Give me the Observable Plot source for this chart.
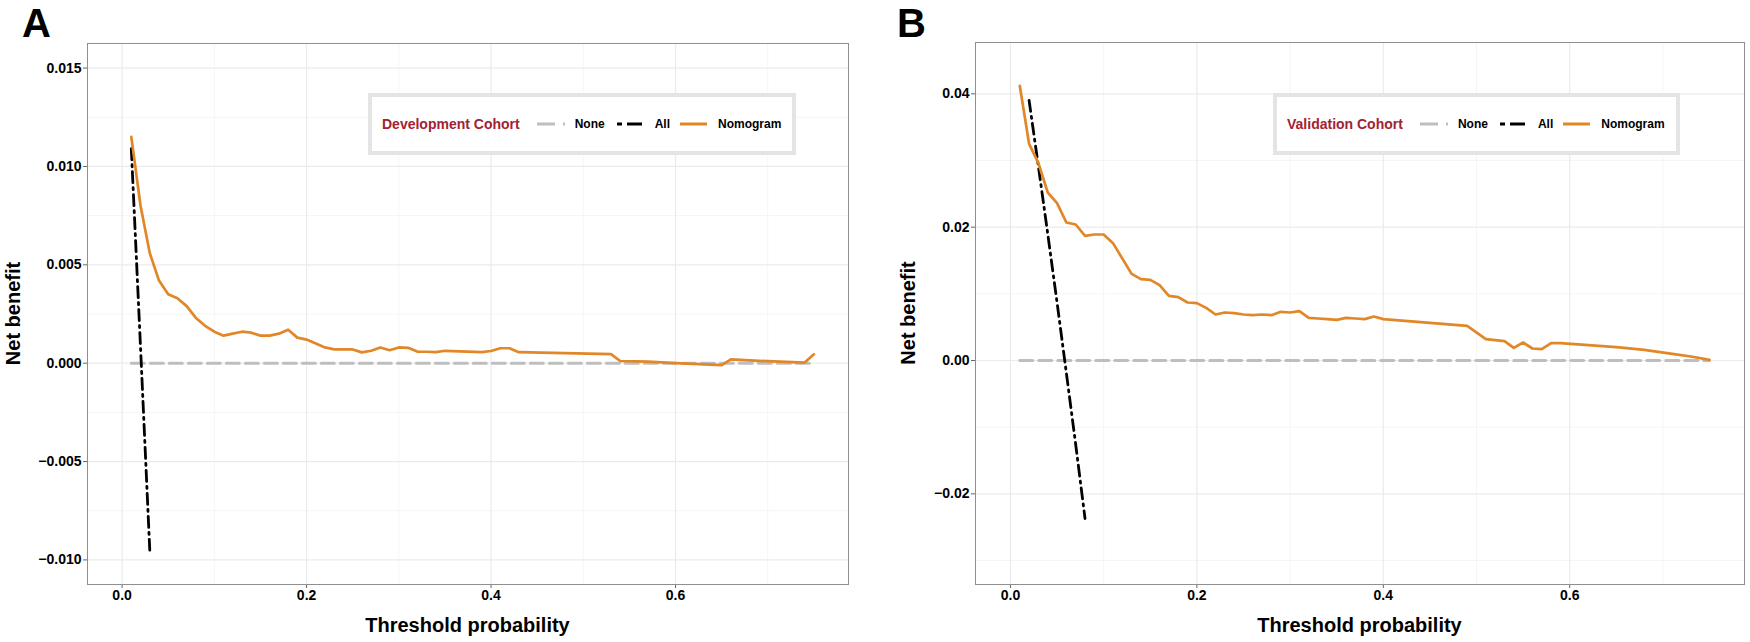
<!DOCTYPE html>
<html>
<head>
<meta charset="utf-8">
<script src="https://cdn.jsdelivr.net/npm/d3@7"></script>
<script src="https://cdn.jsdelivr.net/npm/@observablehq/plot@0.6"></script>
<style>
  html, body { margin: 0; padding: 0; background: #fff; }
  body { font-family: "Liberation Sans", Arial, Helvetica, sans-serif; }
  #root { position: relative; width: 1750px; height: 642px; overflow: hidden; background: #fff; }
  .panel { position: absolute; top: 0; }
  .legend { position: absolute; box-sizing: border-box; height: 62px; border: 4px solid #e4e4e4; background: #fff;
            display: flex; align-items: center; padding-left: 10px; padding-right: 11px; font-weight: bold; white-space: nowrap; }
  .legend .ttl { font-size: 14px; color: #a32130; margin-right: 17px; }
  .legend .lab { font-size: 12px; color: #000; }
  .legend svg { display: block; }
  #overlay { position: absolute; left: 0; top: 0; pointer-events: none; }
  #overlay text { font-family: "Liberation Sans", Arial, Helvetica, sans-serif; font-weight: bold; fill: #000; }
</style>
</head>
<body>
<div id="root"></div>
<script>
// ---------------- Data ----------------
// Panel A – Development cohort
const thresholdA = [0.01,0.02,0.03,0.04,0.05,0.06,0.07,0.08,0.09,0.10,
                    0.11,0.12,0.13,0.14,0.15,0.16,0.17,0.18,0.19,0.20,
                    0.21,0.22,0.23,0.24,0.25,0.26,0.27,0.28,0.29,0.30,
                    0.31,0.32,0.33,0.34,0.35,0.39,0.40,0.41,0.42,0.43,
                    0.53,0.54,0.57,0.60,0.65,0.66,0.70,0.74,0.75];
const nomogramA  = [0.0115,0.0080,0.0056,0.0042,0.0035,0.0033,0.0029,0.0023,0.0019,0.0016,
                    0.0014,0.0015,0.0016,0.00155,0.0014,0.0014,0.0015,0.0017,0.0013,0.0012,
                    0.0010,0.0008,0.0007,0.0007,0.0007,0.00055,0.00063,0.0008,0.00066,0.0008,
                    0.00078,0.00059,0.00058,0.00056,0.00063,0.00056,0.00062,0.00076,0.00076,0.00056,
                    0.00046,0.00011,0.00008,0.0000,-0.0001,0.00019,0.0001,0.00003,0.00045];
const allThresholdA = [0.01, 0.02, 0.03];
const allA          = [0.0109, 0.0008, -0.0095];
const noneThresholdA = [0.01, 0.75];
const noneA          = [0, 0];

// Panel B – Validation cohort
const thresholdB = [0.01,0.02,0.03,0.04,0.05,0.06,0.07,0.08,0.09,0.10,
                    0.11,0.13,0.14,0.15,0.16,0.17,0.18,0.19,0.20,
                    0.21,0.22,0.23,0.24,0.25,0.26,0.27,0.28,0.29,0.30,
                    0.31,0.32,0.33,0.34,0.35,0.36,0.37,0.38,0.39,0.40,
                    0.49,0.51,0.53,0.54,0.55,0.56,0.57,0.58,0.59,
                    0.62,0.65,0.68,0.71,0.73,0.75];
const nomogramB  = [0.0412,0.0325,0.0296,0.0252,0.0236,0.0207,0.0204,0.0187,0.0189,0.0189,
                    0.0176,0.0130,0.0122,0.0121,0.0113,0.0097,0.0095,0.0087,0.0086,
                    0.0079,0.0069,0.0072,0.0071,0.0069,0.0068,0.0069,0.0068,0.0073,0.0072,
                    0.0074,0.0064,0.0063,0.0062,0.0061,0.0064,0.0063,0.0062,0.0066,0.0062,
                    0.0052,0.0032,0.0029,0.0019,0.0027,0.0018,0.0017,0.0026,0.0026,
                    0.0023,0.0020,0.0016,0.0010,0.0006,0.0001];
const allThresholdB = [0.02, 0.03, 0.04, 0.05, 0.06, 0.07, 0.08];
const allB          = [0.0390, 0.0291, 0.0190, 0.0087, -0.0019, -0.0126, -0.0237];
const noneThresholdB = [0.01, 0.75];
const noneB          = [0, 0];

// Axis ticks
const xTicks      = [0.0, 0.2, 0.4, 0.6];
const xMinorTicks = [0.1, 0.3, 0.5, 0.7];
const yTicksA      = [-0.010, -0.005, 0.000, 0.005, 0.010, 0.015];
const yMinorTicksA = [-0.0075, -0.0025, 0.0025, 0.0075, 0.0125];
const yTicksB      = [-0.02, 0.00, 0.02, 0.04];
const yMinorTicksB = [-0.03, -0.01, 0.01, 0.03];

// Text
const panelLetters = ["A", "B"];
const legendTitles = ["Development Cohort", "Validation Cohort"];
const seriesNames  = ["None", "All", "Nomogram"];
const xTitle = "Threshold probability";
const yTitle = "Net benefit";

// ---------------- Drawing ----------------
const COL_NOM = "#E18727", COL_NONE = "#bebebe", COL_ALL = "#000000";
const FONT = "'Liberation Sans', Arial, Helvetica, sans-serif";
const zip = (xs, ys) => xs.map((x, i) => ({t: x, nb: ys[i]}));

function panel(o) {
  return Plot.plot({
    width: o.width, height: 642,
    marginTop: o.mt, marginRight: o.mr, marginBottom: o.mb, marginLeft: o.ml,
    x: {domain: [-0.0375, 0.7875]},
    y: {domain: o.yDomain},
    style: {fontFamily: FONT, fontSize: "14px", fontWeight: "bold", color: "#000", background: "#fff", overflow: "visible"},
    marks: [
      Plot.ruleY(o.yMinor, {stroke: "#f3f3f3", strokeWidth: 0.8}),
      Plot.ruleX(xMinorTicks, {stroke: "#f3f3f3", strokeWidth: 0.8}),
      Plot.ruleY(o.yMajor, {stroke: "#ebebeb", strokeWidth: 1.2}),
      Plot.ruleX(xTicks, {stroke: "#ebebeb", strokeWidth: 1.2}),
      Plot.line(zip(o.noneX, o.noneY), {x: "t", y: "nb", stroke: COL_NONE, strokeWidth: 3, strokeDasharray: "13,6"}),
      Plot.line(zip(o.allX, o.allY), {x: "t", y: "nb", stroke: COL_ALL, strokeWidth: 2.8, strokeDasharray: "11,5,2,5"}),
      Plot.line(zip(o.thr, o.nom), {x: "t", y: "nb", stroke: COL_NOM, strokeWidth: 2.7}),
      Plot.axisX({ticks: xTicks, tickFormat: d3.format(".1f"), tickSize: 4, tickPadding: 2, stroke: "#666", label: null}),
      Plot.axisY({ticks: o.yMajor, tickFormat: d3.format(o.yFmt), tickSize: 4, tickPadding: 2, stroke: "#666", label: null}),
      Plot.frame({stroke: "#8f8f8f", strokeWidth: 1})
    ]
  });
}

const root = document.getElementById("root");

const pA = panel({width: 875, mt: 43, mr: 27, mb: 58, ml: 87,
  yDomain: [-0.01125, 0.01625], yMajor: yTicksA, yMinor: yMinorTicksA, yFmt: ".3f",
  thr: thresholdA, nom: nomogramA, allX: allThresholdA, allY: allA, noneX: noneThresholdA, noneY: noneA});
pA.classList.add("panel"); pA.style.left = "0px";
root.appendChild(pA);

const pB = panel({width: 875, mt: 42, mr: 6, mb: 58, ml: 100,
  yDomain: [-0.0336, 0.0477], yMajor: yTicksB, yMinor: yMinorTicksB, yFmt: ".2f",
  thr: thresholdB, nom: nomogramB, allX: allThresholdB, allY: allB, noneX: noneThresholdB, noneY: noneB});
pB.classList.add("panel"); pB.style.left = "875px";
root.appendChild(pB);

// Legends (HTML overlay, inside the panels)
function legend(title, left) {
  const d = document.createElement("div");
  d.className = "legend";
  d.style.left = left + "px";
  d.style.top = "93px";
  d.innerHTML =
    `<span class="ttl">${title}</span>` +
    `<svg width="30" height="10"><line x1="0" y1="5" x2="30" y2="5" stroke="${COL_NONE}" stroke-width="3" stroke-dasharray="18,8,2,30"/></svg>` +
    `<span class="lab" style="margin-left:8px;margin-right:7px">${seriesNames[0]}</span>` +
    `<svg width="35" height="10"><line x1="0" y1="5" x2="35" y2="5" stroke="${COL_ALL}" stroke-width="3" stroke-dasharray="0,5,5,5,15,30"/></svg>` +
    `<span class="lab" style="margin-left:8px;margin-right:8px">${seriesNames[1]}</span>` +
    `<svg width="32" height="10"><line x1="2" y1="5" x2="29" y2="5" stroke="${COL_NOM}" stroke-width="3"/></svg>` +
    `<span class="lab" style="margin-left:8px">${seriesNames[2]}</span>`;
  root.appendChild(d);
}
legend(legendTitles[0], 368);
legend(legendTitles[1], 1273);

// Titles / letters overlay
const ns = "http://www.w3.org/2000/svg";
const ov = document.createElementNS(ns, "svg");
ov.setAttribute("id", "overlay");
ov.setAttribute("width", 1750); ov.setAttribute("height", 642);
function txt(s, x, y, size, anchor, rot) {
  const t = document.createElementNS(ns, "text");
  t.textContent = s;
  t.setAttribute("x", x); t.setAttribute("y", y);
  t.setAttribute("font-size", size);
  t.setAttribute("text-anchor", anchor);
  if (rot) t.setAttribute("transform", `rotate(-90 ${x} ${y})`);
  ov.appendChild(t);
}
txt(panelLetters[0], 22, 37, 40, "start");
txt(panelLetters[1], 897, 37, 40, "start");
txt(xTitle, 467.5, 632, 20, "middle");
txt(xTitle, 1359.5, 632, 20, "middle");
txt(yTitle, 20, 313.5, 20, "middle", true);
txt(yTitle, 915, 313, 20, "middle", true);
root.appendChild(ov);
</script>
</body>
</html>
